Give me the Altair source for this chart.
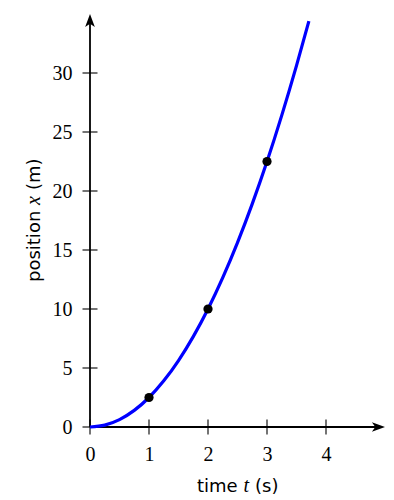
import altair as alt
import pandas as pd

# ---- data ----
t_curve = [0, 0.25, 0.5, 0.75, 1.0, 1.25, 1.5, 1.75, 2.0, 2.25, 2.5, 2.75, 3.0, 3.25, 3.5, 3.71]
x_curve = [0, 0.16, 0.63, 1.41, 2.5, 3.91, 5.63, 7.66, 10.0, 12.66, 15.63, 18.91, 22.5, 26.41, 30.63, 34.4]
t_points = [1, 2, 3]
x_points = [2.5, 10, 22.5]
x_ticks = [0, 1, 2, 3, 4]
y_ticks = [0, 5, 10, 15, 20, 25, 30]
t_range = [0, 5]
x_range = [0, 35]

SERIF = "Liberation Serif"
SANS = "DejaVu Sans"

xs = alt.Scale(domain=t_range, nice=False, zero=False)
ys = alt.Scale(domain=x_range, nice=False, zero=False)

curve_df = pd.DataFrame({"t": t_curve, "x": x_curve})
pts_df = pd.DataFrame({"t": t_points, "x": x_points})
xt_df = pd.DataFrame({"t": x_ticks, "x": [0] * len(x_ticks)})
yt_df = pd.DataFrame({"x": y_ticks, "t": [0] * len(y_ticks)})
xaxis_df = pd.DataFrame({"t": [t_range[0]], "t2": [t_range[1] - 0.1], "x": [0]})
yaxis_df = pd.DataFrame({"t": [0], "x": [x_range[0]], "x2": [x_range[1] - 0.7]})
arrow_x_df = pd.DataFrame({"t": [t_range[1]], "x": [0]})
arrow_y_df = pd.DataFrame({"t": [0], "x": [x_range[1]]})

x_axis = alt.Axis(values=x_ticks, domain=False, ticks=False, tickSize=0, grid=False,
                  labelFont=SERIF, labelFontSize=20, labelColor="black",
                  labelPadding=17, title=None, labelFlush=False)
y_axis = alt.Axis(values=y_ticks, domain=False, ticks=False, tickSize=0, grid=False,
                  labelFont=SERIF, labelFontSize=20, labelColor="black",
                  labelPadding=18, title=None, labelFlush=False)

X = lambda: alt.X("t:Q", scale=xs, axis=x_axis)
Y = lambda: alt.Y("x:Q", scale=ys, axis=y_axis)

xaxis_line = alt.Chart(xaxis_df).mark_rule(color="black", strokeWidth=1.8).encode(
    x=X(), x2="t2:Q", y=Y())
yaxis_line = alt.Chart(yaxis_df).mark_rule(color="black", strokeWidth=1.8).encode(
    x=X(), y=Y(), y2="x2:Q")

xticks = alt.Chart(xt_df).mark_tick(orient="vertical", size=15, thickness=1.1, color="black", opacity=1).encode(
    x=X(), y=Y())
yticks = alt.Chart(yt_df).mark_tick(orient="horizontal", size=15, thickness=1.1, color="black", opacity=1).encode(
    x=X(), y=Y())

arrow_right = "M 0 0 L -2.3 -0.85 L -1.7 0 L -2.3 0.85 Z"
arrow_up = "M 0 0 L -0.85 2.3 L 0 1.7 L 0.85 2.3 Z"
ax_arrow = alt.Chart(arrow_x_df).mark_point(shape=arrow_right, size=130, filled=True, color="black", opacity=1).encode(
    x=X(), y=Y())
ay_arrow = alt.Chart(arrow_y_df).mark_point(shape=arrow_up, size=130, filled=True, color="black", opacity=1).encode(
    x=X(), y=Y())

curve = alt.Chart(curve_df).mark_line(color="#0000ff", strokeWidth=3.2, interpolate="monotone").encode(
    x=X(), y=Y())

points = alt.Chart(pts_df).mark_circle(size=85, color="black", opacity=1).encode(
    x=X(), y=Y())

# axis titles (mixed fonts) as text marks
def txt(s, x, y, font, style="normal", angle=0, size=18):
    return alt.Chart(pd.DataFrame({"s": [s]})).mark_text(
        font=font, fontStyle=style, fontSize=size, align="left",
        baseline="alphabetic", angle=angle, color="black").encode(
        text="s:N", x=alt.value(x), y=alt.value(y))

titles = [
    txt("time", 107, 478, SANS),
    txt("t", 153.5, 478, SERIF, "italic", size=20),
    txt("(s)", 165, 478, SANS),
    txt("position", -50, 268, SANS, angle=270),
    txt("x", -50, 191, SERIF, "italic", angle=270, size=20),
    txt("(m)", -50, 176, SANS, angle=270),
]

chart = alt.layer(
    xaxis_line, yaxis_line, xticks, yticks, ax_arrow, ay_arrow, curve, points, *titles
).properties(
    width=295, height=413,
    autosize=alt.AutoSizeParams(type="none"),
    padding={"left": 90, "top": 14, "right": 9, "bottom": 73},
    background="white",
).configure_view(stroke=None)

chart.save("out.html", embed_options={"renderer": "svg", "actions": False})
